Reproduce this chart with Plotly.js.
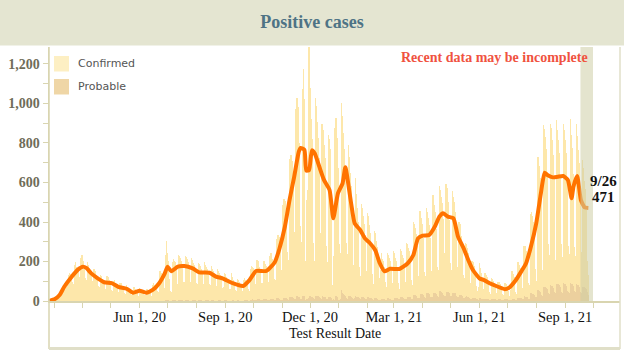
<!DOCTYPE html>
<html>
<head>
<meta charset="utf-8">
<script src="https://cdn.plot.ly/plotly-3.0.1.min.js"></script>
<style>
  html, body { margin: 0; padding: 0; background: #ffffff; }
  #chart { width: 624px; height: 350px; }
</style>
</head>
<body>
<div id="chart"></div>
<script>
// ---- DATA ----
// daily values, Mon 2020-02-24 .. Sun 2021-09-26 (one row = one week, Mon..Sun)
const firstDay = '2020-02-24';

const confirmed = [
  0,0,1,0,1,2,3,
  8,12,18,25,30,28,35,
  45,60,70,88,95,72,70,
  110,130,140,135,120,95,85,
  180,195,170,165,160,120,110,
  215,230,200,185,160,115,105,
  195,180,165,150,125,95,100,
  160,150,130,125,110,75,70,
  130,125,110,100,90,62,55,
  125,120,105,95,85,55,50,
  100,105,90,80,70,45,40,
  92,90,75,70,58,40,35,
  78,72,65,55,50,32,30,
  35,68,62,55,45,25,25,
  65,62,55,52,45,30,27,
  60,58,52,48,44,28,25,
  80,88,80,78,75,50,45,
  135,150,140,130,120,65,65,
  230,300,240,200,110,50,45,
  195,210,200,195,175,85,75,
  230,225,215,200,170,95,95,
  225,220,210,195,165,95,90,
  215,205,190,180,150,90,85,
  190,185,175,160,140,80,85,
  195,180,170,160,135,85,80,
  175,160,150,140,120,75,75,
  160,150,140,130,110,65,70,
  140,135,120,110,95,60,60,
  60,140,120,105,90,55,52,
  110,105,95,85,75,50,40,
  105,115,105,100,95,60,50,
  155,170,165,160,140,85,70,
  200,195,180,165,150,85,90,
  195,195,175,170,150,90,90,
  220,230,215,205,185,105,100,
  300,320,320,310,285,150,150,
  470,500,490,470,430,240,200,
  700,720,720,690,620,340,270,
  950,1000,960,900,780,370,290,
  1050,1150,1000,200,500,450,550,
  1270,1050,900,800,690,280,190,
  1000,960,880,800,700,330,195,
  870,840,770,700,600,270,185,
  820,800,750,530,80,220,160,
  850,900,800,650,100,280,235,
  950,900,820,740,630,280,230,
  760,700,620,560,480,210,170,
  400,600,520,450,380,160,115,
  470,450,410,370,320,140,115,
  430,410,370,330,280,130,80,
  340,330,290,260,220,110,60,
  150,230,200,190,160,90,65,
  230,220,205,190,160,85,51,
  235,225,200,185,155,80,54,
  245,235,215,200,165,85,59,
  270,265,245,230,190,95,70,
  370,360,340,310,250,110,100,
  420,410,385,355,290,130,110,
  430,410,380,350,285,130,120,
  495,475,445,410,330,150,135,
  530,510,480,450,375,215,190,
  545,525,490,455,370,165,130,
  515,485,460,410,335,150,130,
  370,360,330,300,245,115,100,
  270,265,245,220,185,80,75,
  190,180,165,150,125,65,45,
  65,180,155,130,108,55,40,
  132,122,112,102,88,42,30,
  108,103,93,83,72,35,27,
  89,86,79,72,62,30,25,
  84,82,76,70,46,23,28,
  52,140,127,112,93,41,30,
  185,180,167,152,130,55,50,
  258,253,233,210,175,80,70,
  405,415,395,365,305,140,80,
  650,670,630,570,470,210,130,
  820,800,760,700,580,250,200,
  815,795,735,665,555,240,170,
  830,780,730,670,550,240,180,
  805,775,725,665,545,230,175,
  200,830,750,690,570,220,180,
  810,750,680,620,510,200,70,
  640,600,540,500,400,160,100
];

const probable = [
  0,0,0,0,0,0,0,
  0,0,0,0,0,0,0,
  0,0,0,1,0,0,0,
  0,1,0,0,1,0,0,
  1,0,1,1,0,0,0,
  1,2,1,1,1,0,1,
  2,1,1,2,1,0,0,
  1,2,1,1,1,1,0,
  1,1,2,1,1,0,1,
  2,1,1,1,1,0,0,
  1,1,1,2,1,0,1,
  1,2,1,1,0,1,0,
  1,1,1,1,1,0,0,
  0,1,1,2,1,0,0,
  1,1,1,1,1,0,1,
  1,1,2,1,1,0,0,
  2,1,1,2,1,1,0,
  2,2,3,2,2,1,1,
  3,4,3,3,2,1,1,
  3,4,4,3,3,2,1,
  4,4,3,4,3,2,2,
  4,3,4,4,3,2,1,
  4,4,3,3,3,2,2,
  3,4,4,3,3,1,2,
  4,3,4,3,3,2,1,
  3,4,3,3,2,2,1,
  3,3,4,3,2,1,2,
  3,3,3,2,3,1,1,
  1,4,3,3,2,1,1,
  3,3,2,3,2,1,1,
  3,4,3,3,3,2,1,
  6,7,8,6,6,3,3,
  8,9,8,8,7,4,3,
  9,8,10,9,7,4,4,
  10,11,10,9,8,5,4,
  13,14,13,12,11,6,5,
  16,17,15,16,14,8,7,
  20,21,20,18,17,10,8,
  24,26,24,22,21,11,10,
  24,27,24,5,12,11,14,
  32,27,24,22,21,13,11,
  27,26,26,24,22,13,11,
  24,24,22,22,19,11,10,
  22,22,21,16,3,8,6,
  24,26,24,21,5,10,8,
  55,38,33,30,25,13,10,
  28,27,26,24,21,13,10,
  15,24,22,21,18,14,10,
  20,19,18,18,16,10,8,
  18,18,17,16,14,9,7,
  15,14,14,14,12,7,6,
  7,12,12,11,10,6,5,
  14,14,13,12,11,7,6,
  18,17,17,16,14,10,8,
  20,20,19,18,16,11,9,
  23,22,22,21,19,12,10,
  31,30,30,28,26,16,14,
  36,36,34,33,30,19,16,
  40,39,38,36,33,21,18,
  43,43,41,40,36,23,21,
  50,51,48,47,42,29,27,
  47,47,45,44,39,27,25,
  42,42,40,39,35,24,22,
  31,31,30,29,26,17,16,
  22,23,22,21,19,13,11,
  15,15,14,14,13,9,8,
  7,14,13,12,10,8,8,
  10,10,10,9,8,6,5,
  9,9,9,8,8,5,4,
  8,8,8,8,7,4,4,
  8,8,8,8,6,4,5,
  5,11,10,10,9,7,7,
  15,15,14,14,13,9,8,
  23,23,22,21,19,12,11,
  38,38,37,36,31,22,19,
  56,57,55,53,46,32,27,
  72,73,70,68,59,40,33,
  80,81,78,76,66,45,38,
  86,87,84,81,71,47,41,
  90,91,88,86,75,50,45,
  40,90,88,84,74,52,48,
  85,86,83,80,70,48,38,
  73,73,70,68,60,45,31
];

// 7-day average, read at points along the orange curve
const avgDates = ['2020-02-25','2020-03-02','2020-03-07','2020-03-12','2020-03-20','2020-03-27',
  '2020-04-01','2020-04-05','2020-04-10','2020-04-17','2020-04-24',
  '2020-05-02','2020-05-09','2020-05-18','2020-05-25',
  '2020-06-01','2020-06-08','2020-06-15','2020-06-22','2020-06-28',
  '2020-07-01','2020-07-05','2020-07-12','2020-07-19','2020-07-28',
  '2020-08-04','2020-08-15','2020-08-22','2020-08-29',
  '2020-09-09','2020-09-20','2020-09-27',
  '2020-10-04','2020-10-15','2020-10-24','2020-10-29',
  '2020-11-04','2020-11-09','2020-11-14','2020-11-19','2020-11-21','2020-11-25','2020-11-27','2020-11-30',
  '2020-12-03','2020-12-06','2020-12-11','2020-12-16','2020-12-22','2020-12-26','2020-12-31',
  '2021-01-05','2021-01-08','2021-01-14','2021-01-18','2021-01-24','2021-01-29',
  '2021-02-03','2021-02-09','2021-02-14','2021-02-19','2021-02-25',
  '2021-03-07','2021-03-16','2021-03-22','2021-03-27',
  '2021-04-01','2021-04-08','2021-04-14','2021-04-19','2021-04-23','2021-04-28',
  '2021-05-04','2021-05-09','2021-05-15','2021-05-20','2021-05-25',
  '2021-06-01','2021-06-06','2021-06-12','2021-06-19','2021-06-28',
  '2021-07-03','2021-07-10','2021-07-16','2021-07-21','2021-07-26',
  '2021-08-01','2021-08-06','2021-08-10','2021-08-13','2021-08-19','2021-08-24','2021-08-30',
  '2021-09-04','2021-09-08','2021-09-10','2021-09-14','2021-09-18','2021-09-22','2021-09-26'];
const avgValues = [0,10,30,72,123,160,
  174,166,140,115,95,
  90,72,62,42,
  52,42,56,90,140,
  174,150,174,177,165,
  145,143,123,115,
  90,76,106,
  152,152,195,262,
  376,511,629,756,775,765,660,663,
  763,748,680,613,562,419,545,
  596,677,500,393,359,317,
  295,258,191,150,163,
  162,191,233,317,
  331,334,376,427,444,427,
  419,326,267,208,157,
  115,106,90,76,60,
  68,105,150,190,270,
  393,545,650,638,626,629,633,
  613,520,579,633,511,474,471];

const xTickVals = ['2020-06-01','2020-09-01','2020-12-01','2021-03-01','2021-06-01','2021-09-01'];
const xTickText = ['Jun 1, 20','Sep 1, 20','Dec 1, 20','Mar 1, 21','Jun 1, 21','Sep 1, 21'];
const seriesNames = ['Confirmed', 'Probable'];
const incompleteFrom = '2021-09-17 12:00';
const incompleteTo = '2021-10-01';
const lastLabel = '9/26';

// ---- BUILD ----
function dayList(start, n) {
  const out = [];
  const p = start.split('-').map(Number);
  for (let i = 0; i < n; i++) {
    const d = new Date(Date.UTC(p[0], p[1] - 1, p[2] + i));
    out.push(d.toISOString().slice(0, 10));
  }
  return out;
}
const days = dayList(firstDay, confirmed.length);

const serif = '"Liberation Serif", "Times New Roman", Times, serif';
const cConf = '#fde7aa';
const cProb = '#ecd09e';
const axisCol = '#d9d5b0';
const frameCol = '#e0dfc8';
const DAY = 86400000;

// plot area in px: left 49, right 620, top 47, bottom 301
const L = 49, R = 620, T = 47, B = 301;
const PW = R - L, PH = B - T;
const px = v => (v - L) / PW;
const py = v => (B - v) / PH;

const traces = [
  { type: 'bar', x: days, y: probable, name: seriesNames[1], width: DAY * 1.4, marker: { color: cProb, line: { width: 0 } }, showlegend: false, hoverinfo: 'skip' },
  { type: 'bar', x: days, y: confirmed, name: seriesNames[0], width: DAY * 1.4, marker: { color: cConf, line: { width: 0 } }, showlegend: false, hoverinfo: 'skip' },
  { type: 'scatter', mode: 'lines', x: avgDates, y: avgValues, line: { color: '#ff7300', width: 4, shape: 'spline', smoothing: 0.5 }, showlegend: false, hoverinfo: 'skip' }
];

const lastDate = avgDates[avgDates.length - 1];
const lastVal = avgValues[avgValues.length - 1];

const layout = {
  width: 624, height: 350,
  margin: { l: L, r: 624 - R, t: T, b: 350 - B, pad: 0 },
  paper_bgcolor: '#ffffff', plot_bgcolor: '#ffffff',
  barmode: 'stack', bargap: 0,
  showlegend: false,
  title: { text: 'Positive cases', x: 0.5, xref: 'container', xanchor: 'center', y: 1 - 22 / 350, yanchor: 'middle', yref: 'container',
           font: { family: serif, size: 18, color: '#4e7385', weight: 'bold' } },
  xaxis: {
    type: 'date',
    range: ['2020-02-24 15:06', '2021-10-30'],
    tickmode: 'array', tickvals: xTickVals, ticktext: xTickText,
    ticks: 'outside', ticklen: 5, tickcolor: axisCol, tickwidth: 1,
    ticklabelstandoff: -3,
    minor: { tickmode: 'linear', tick0: '2020-03-01', dtick: 'M1', ticks: 'outside', ticklen: 5, tickcolor: axisCol, tickwidth: 1, showgrid: false },
    showline: true, linecolor: axisCol, linewidth: 1.5,
    showgrid: false, zeroline: false,
    tickfont: { family: serif, size: 14.5, color: '#111111' },
    fixedrange: true
  },
  yaxis: {
    range: [0, 1286],
    tickmode: 'linear', tick0: 0, dtick: 200, tickformat: ',d',
    ticks: 'outside', ticklen: 5, tickcolor: axisCol, tickwidth: 1,
    minor: { dtick: 100, ticks: 'outside', ticklen: 5, tickcolor: axisCol, tickwidth: 1, showgrid: false },
    showline: true, linecolor: axisCol, linewidth: 1.5,
    showgrid: false, zeroline: false,
    tickfont: { family: serif, size: 14, color: '#6f6c58', weight: 'bold' },
    fixedrange: true
  },
  shapes: [
    // header band
    { type: 'rect', xref: 'paper', yref: 'paper', x0: px(-5), x1: px(630), y0: py(45.5), y1: py(-5), fillcolor: '#e4e5d1', line: { width: 0 }, layer: 'above' },
    // frame
    { type: 'line', xref: 'paper', yref: 'paper', x0: 0, x1: 0, y0: py(349), y1: py(T), line: { color: axisCol, width: 1.5 }, layer: 'above' },
    { type: 'line', xref: 'paper', yref: 'paper', x0: 1, x1: 1, y0: py(349), y1: py(T), line: { color: frameCol, width: 1.5 }, layer: 'above' },
    { type: 'line', xref: 'paper', yref: 'paper', x0: 0, x1: 1, y0: py(348.5), y1: py(348.5), line: { color: frameCol, width: 3 }, layer: 'above' },
    // recent data band
    { type: 'rect', xref: 'x', yref: 'paper', x0: incompleteFrom, x1: incompleteTo, y0: 0, y1: 1, fillcolor: 'rgb(205,205,165)', opacity: 0.55, line: { width: 0 }, layer: 'above' },
    // legend swatches
    { type: 'rect', xref: 'paper', yref: 'paper', x0: px(54), x1: px(69), y0: py(71.5), y1: py(56), fillcolor: '#fdefc3', line: { width: 0 }, layer: 'above' },
    { type: 'rect', xref: 'paper', yref: 'paper', x0: px(54), x1: px(69), y0: py(94.5), y1: py(79), fillcolor: '#efd6a6', line: { width: 0 }, layer: 'above' }
  ],
  annotations: [
    { xref: 'paper', yref: 'paper', x: 0.5, y: py(333), xanchor: 'center', yanchor: 'middle', showarrow: false, text: 'Test Result Date',
      font: { family: serif, size: 14, color: '#111111' } },
    { xref: 'paper', yref: 'paper', x: px(76), y: py(63.5), xanchor: 'left', yanchor: 'middle', showarrow: false, text: seriesNames[0],
      font: { family: '"DejaVu Sans", Verdana, sans-serif', size: 11, color: '#555555' } },
    { xref: 'paper', yref: 'paper', x: px(76), y: py(86.5), xanchor: 'left', yanchor: 'middle', showarrow: false, text: seriesNames[1],
      font: { family: '"DejaVu Sans", Verdana, sans-serif', size: 11, color: '#555555' } },
    { xref: 'paper', yref: 'paper', x: px(590), y: py(57), xanchor: 'right', yanchor: 'middle', showarrow: false, text: 'Recent data may be incomplete',
      font: { family: serif, size: 14, color: '#f0523f', weight: 'bold' } },
    { xref: 'x', yref: 'y', x: lastDate, y: lastVal, xanchor: 'center', yanchor: 'middle', xshift: 15, yshift: 27, showarrow: false, text: lastLabel,
      font: { family: serif, size: 15, color: '#111111', weight: 'bold' } },
    { xref: 'x', yref: 'y', x: lastDate, y: lastVal, xanchor: 'center', yanchor: 'middle', xshift: 15, yshift: 11, showarrow: false, text: String(lastVal),
      font: { family: serif, size: 15, color: '#111111', weight: 'bold' } }
  ]
};

Plotly.newPlot('chart', traces, layout, { staticPlot: true, displayModeBar: false });
</script>
</body>
</html>
